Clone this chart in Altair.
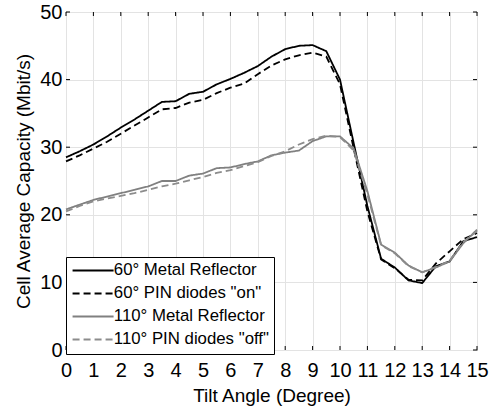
import altair as alt
import pandas as pd

# Tilt angles (degrees), sampled every half degree
tilt = [i * 0.5 for i in range(31)]

metal_60 = [28.5, 29.4, 30.4, 31.6, 32.9, 34.1, 35.4, 36.7, 36.8, 37.9, 38.2,
            39.3, 40.1, 41.0, 42.0, 43.4, 44.5, 45.0, 45.1, 44.2, 40.0,
            30.6, 21.3, 13.5, 12.2, 10.3, 9.9, 12.4, 13.1, 16.1, 16.7]
pin_on_60 = [27.9, 28.8, 29.8, 30.8, 32.0, 33.2, 34.4, 35.6, 35.8, 36.6, 37.0,
             38.0, 38.8, 39.4, 40.8, 42.1, 43.0, 43.6, 44.0, 43.4, 39.3,
             29.8, 20.5, 13.4, 12.1, 10.4, 10.3, 12.8, 14.6, 16.4, 17.3]
metal_110 = [20.8, 21.5, 22.2, 22.7, 23.2, 23.7, 24.2, 25.0, 25.0, 25.8, 26.1,
             26.9, 27.0, 27.5, 27.9, 28.8, 29.2, 29.5, 30.9, 31.6, 31.6,
             29.8, 23.5, 15.6, 14.4, 12.5, 11.5, 12.2, 13.1, 15.8, 17.8]
pin_off_110 = [20.5, 21.3, 22.0, 22.4, 22.8, 23.2, 23.7, 24.2, 24.6, 25.1, 25.6,
               26.2, 26.6, 27.2, 27.8, 28.7, 29.4, 30.4, 31.2, 31.7, 31.5,
               29.5, 23.0, 15.5, 14.3, 12.4, 11.5, 12.3, 13.2, 16.0, 17.6]

series_names = ["60° Metal Reflector", '60° PIN diodes "on"',
                "110° Metal Reflector", '110° PIN diodes "off"']
series_values = [metal_60, pin_on_60, metal_110, pin_off_110]
series_colors = ["#000000", "#000000", "#808080", "#8c8c8c"]
series_dash = [[1, 0], [7, 4], [1, 0], [7, 4]]

x_ticks = list(range(16))
y_ticks = [0, 10, 20, 30, 40, 50]

rows = []
for name, vals in zip(series_names, series_values):
    for t, v in zip(tilt, vals):
        rows.append({"tilt": t, "capacity": v, "series": name})
df = pd.DataFrame(rows)

W, H = 411, 338
FONT = "Liberation Sans"

x_scale = alt.Scale(domain=[0, 15], nice=False, zero=False)
y_scale = alt.Scale(domain=[0, 50], nice=False)

# One axis definition per channel, shared by every layer
x_axis = alt.Axis(values=x_ticks, title="Tilt Angle (Degree)",
                  grid=True, tickSize=0, domain=False, format="d",
                  labelOverlap=False, labelFlush=False,
                  labelBaseline="alphabetic", labelPadding=26,
                  titleBaseline="alphabetic", titleY=51, titleFontSize=19)
y_axis = alt.Axis(values=y_ticks, title="Cell Average Capacity (Mbit/s)",
                  grid=True, tickSize=0, domain=False, format="d",
                  labelOverlap=False, labelFlush=False, labelPadding=4,
                  titleBaseline="alphabetic", titleX=-37, titleY=H / 2,
                  titleFontSize=19)

lines = alt.Chart(df).mark_line(strokeWidth=1.8).encode(
    x=alt.X("tilt:Q", scale=x_scale, axis=x_axis),
    y=alt.Y("capacity:Q", scale=y_scale, axis=y_axis),
    color=alt.Color("series:N", sort=series_names,
                    scale=alt.Scale(domain=series_names, range=series_colors),
                    title=None),
    strokeDash=alt.StrokeDash("series:N", sort=series_names,
                              scale=alt.Scale(domain=series_names, range=series_dash),
                              title=None),
    order=alt.Order("tilt:Q"),
)

# Inward tick marks on all four sides of the frame
xt = pd.DataFrame({"tilt": x_ticks})
yt = pd.DataFrame({"capacity": y_ticks})
tick_style = dict(color="#000000", strokeWidth=1)
x_bottom = alt.Chart(xt).mark_rule(**tick_style).encode(
    x=alt.X("tilt:Q", scale=x_scale, axis=x_axis), y=alt.value(H), y2=alt.value(H - 4))
x_top = alt.Chart(xt).mark_rule(**tick_style).encode(
    x=alt.X("tilt:Q", scale=x_scale, axis=x_axis), y=alt.value(0), y2=alt.value(4))
y_left = alt.Chart(yt).mark_rule(**tick_style).encode(
    y=alt.Y("capacity:Q", scale=y_scale, axis=y_axis), x=alt.value(0), x2=alt.value(4))
y_right = alt.Chart(yt).mark_rule(**tick_style).encode(
    y=alt.Y("capacity:Q", scale=y_scale, axis=y_axis), x=alt.value(W), x2=alt.value(W - 4))

chart = alt.layer(lines, x_bottom, x_top, y_left, y_right).properties(
    width=W, height=H,
    autosize=alt.AutoSizeParams(type="none"),
    padding={"left": 66, "top": 12, "right": 16, "bottom": 58},
    background="white",
).configure_view(
    stroke="#000000", strokeWidth=1,
).configure_axis(
    labelFont=FONT, titleFont=FONT, labelFontSize=20,
    labelColor="#000000", titleColor="#000000", titleFontWeight="normal",
    gridColor="#e3e3e3", gridWidth=1,
).configure_legend(
    orient="none", legendX=0, legendY=245,
    strokeColor="#000000", fillColor="white", padding=5, cornerRadius=0,
    symbolType="M-1,0H5", symbolSize=187, symbolStrokeWidth=2,
    labelFont=FONT, labelFontSize=16.8, labelColor="#000000", labelLimit=400,
    labelOffset=26, rowPadding=5,
)

chart.save("out.html", embed_options={"renderer": "svg", "actions": False})
